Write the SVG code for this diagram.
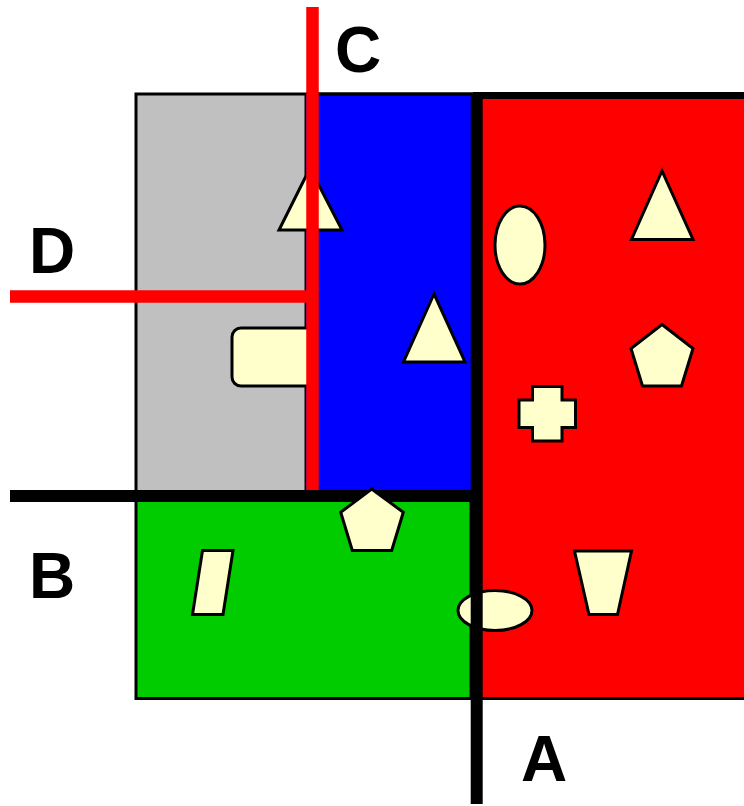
<svg xmlns="http://www.w3.org/2000/svg" width="744" height="806" viewBox="0 0 744 806">
<style>
.shape{fill:#FFFFCC;stroke:#000;stroke-width:3;stroke-linejoin:miter}
.region{stroke:#000;stroke-width:3}
.lbl{font-family:"Liberation Sans",Arial,sans-serif;font-weight:bold;font-size:64px;fill:#000}
.red{stroke:#FF0000;stroke-width:12.5;fill:none}
.blk{stroke:#000;stroke-width:12;fill:none}
</style>
<rect width="744" height="806" fill="#fff"/>
<g id="regions">
<g id="region-red"><rect class="region" x="477" y="96" width="270" height="602.5" fill="#FF0000"/><line x1="473" y1="95.5" x2="744" y2="95.5" stroke="#000" stroke-width="7"/></g>
<g id="region-gray"><rect class="region" x="136" y="94" width="170" height="399" fill="#C0C0C0"/></g>
<g id="region-blue"><rect x="306" y="94" width="167" height="399" fill="#0000FF"/><line x1="306" y1="94" x2="474" y2="94" stroke="#000" stroke-width="3.5"/></g>
<g id="region-green"><rect class="region" x="136" y="500" width="335" height="198.5" fill="#00CC00"/></g>
</g>
<g id="shapes">
<g id="gray-triangle"><polygon class="shape" points="310,168 279,230 342,230"/></g>
<g id="gray-roundrect"><rect class="shape" x="232" y="328" width="84" height="58" rx="9"/></g>
<g id="blue-triangle"><polygon class="shape" points="434,294 403.5,362 465,362"/></g>
<g id="red-ellipse"><ellipse class="shape" cx="520" cy="245" rx="25" ry="39"/></g>
<g id="red-triangle"><polygon class="shape" points="662,171 631.5,239.5 693,239.5"/></g>
<g id="red-pentagon"><polygon class="shape" points="662,324.5 693,348.5 681.5,386 642.5,386 631,348.5"/></g>
<g id="red-cross"><polygon class="shape" points="532.5,386.5 562,386.5 562,400 575.5,400 575.5,427.5 562,427.5 562,441 532.5,441 532.5,427.5 519,427.5 519,400 532.5,400"/></g>
<g id="red-trapezoid"><polygon class="shape" points="574.5,551 631.5,551 617.5,614.5 589,614.5"/></g>
<g id="green-parallelogram"><polygon class="shape" points="202.5,550.5 233,550.5 223,614.5 192.5,614.5"/></g>
<g id="boundary-ellipse"><ellipse class="shape" cx="495" cy="610.5" rx="37" ry="20"/></g>
</g>
<g id="connectors">
<line id="line-C" class="red" x1="312.5" y1="7" x2="312.5" y2="496"/>
<line id="line-D" class="red" x1="10" y1="296.5" x2="312" y2="296.5"/>
<line id="line-B" class="blk" x1="10" y1="496" x2="477" y2="496"/>
<line id="line-A" class="blk" x1="476.7" y1="96" x2="476.7" y2="804" stroke-width="11.5"/>
</g>
<g id="green-pentagon"><polygon class="shape" points="371.7,489 403.3,512.3 391.7,550.5 352.3,550.5 340.7,512.3"/></g>
<g id="labels">
<text class="lbl" x="335" y="72">C</text>
<text class="lbl" x="29" y="273">D</text>
<text class="lbl" x="29" y="598">B</text>
<text class="lbl" x="521" y="781">A</text>
</g>
</svg>
